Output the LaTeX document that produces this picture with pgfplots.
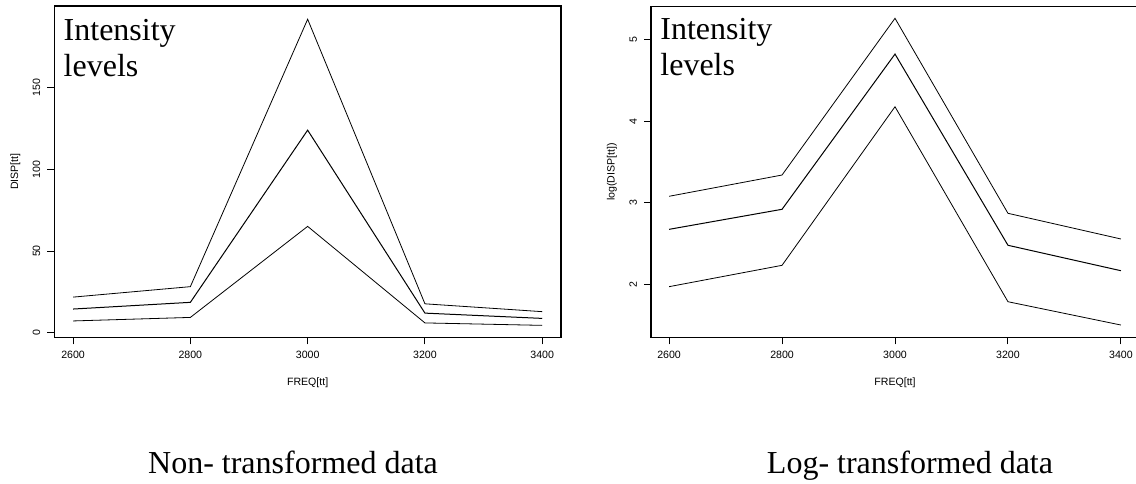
\documentclass[border=0pt]{standalone}
\usepackage{pgfplots}
\pgfplotsset{compat=1.18}
\usepackage{fontspec}
\setmainfont{Liberation Sans}
\newfontfamily\seriffont{Liberation Serif}
\begin{document}
\begin{tikzpicture}
\pgfplotsset{
  rstyle/.style={
    scale only axis,
    axis line style={black, line width=0.55pt},
    xmin=2568, xmax=3432,
    xtick={2600,2800,3000,3200,3400},
    xtick pos=bottom, ytick pos=left,
    tick align=outside,
    major tick length=3.5pt,
    every tick/.style={black, line width=0.5pt},
    tick label style={font=\fontsize{5.3}{6}\selectfont},
    /pgf/number format/assume math mode=true,
    /pgf/number format/set thousands separator={},
    scaled ticks=false,
    yticklabel style={rotate=90, anchor=south},
    every axis x label/.style={at={(axis description cs:0.5,0)}, anchor=center, yshift=-22.5pt, font=\fontsize{5.3}{6}\selectfont},
    every axis y label/.style={at={(axis description cs:0,0.5)}, anchor=center, xshift=-19.5pt, rotate=90, font=\fontsize{5.3}{6}\selectfont},
    cycle list={{black, line width=0.5pt, no markers}},
  }
}
\begin{axis}[rstyle,
  at={(27.15pt,72.85pt)}, anchor=south west,
  width=253.35pt, height=165.65pt,
  ymin=-2.8, ymax=200,
  ytick={0,50,100,150},
  xlabel={FREQ[tt]}, ylabel={DISP[tt]}]
\addplot coordinates {(2600,21.8)(2800,28.2)(3000,191.9)(3200,17.7)(3400,12.9)};
\addplot coordinates {(2600,14.5)(2800,18.6)(3000,124.0)(3200,12.0)(3400,8.77)};
\addplot coordinates {(2600,7.21)(2800,9.37)(3000,65.1)(3200,6.0)(3400,4.51)};
\node[anchor=base west, inner sep=0, font=\seriffont\fontsize{16}{18}\selectfont] at (rel axis cs:0,1) [xshift=4.5pt, yshift=-17pt] {Intensity};
\node[anchor=base west, inner sep=0, font=\seriffont\fontsize{16}{18}\selectfont] at (rel axis cs:0,1) [xshift=4.5pt, yshift=-35pt] {levels};
\end{axis}
\begin{axis}[rstyle,
  at={(325.5pt,72.85pt)}, anchor=south west,
  width=244pt, height=165.3pt,
  ymin=1.357, ymax=5.399,
  ytick={2,3,4,5},
  xlabel={FREQ[tt]}, ylabel={log(DISP[tt])}]
\addplot coordinates {(2600,3.081)(2800,3.341)(3000,5.257)(3200,2.873)(3400,2.559)};
\addplot coordinates {(2600,2.677)(2800,2.922)(3000,4.820)(3200,2.482)(3400,2.171)};
\addplot coordinates {(2600,1.976)(2800,2.237)(3000,4.176)(3200,1.792)(3400,1.507)};
\node[anchor=base west, inner sep=0, font=\seriffont\fontsize{16}{18}\selectfont] at (rel axis cs:0,1) [xshift=4.5pt, yshift=-16.5pt] {Intensity};
\node[anchor=base west, inner sep=0, font=\seriffont\fontsize{16}{18}\selectfont] at (rel axis cs:0,1) [xshift=4.5pt, yshift=-34.5pt] {levels};
\end{axis}
\node[anchor=base, inner sep=0, font=\seriffont\fontsize{16}{18}\selectfont] at (146.5pt,5pt) {Non- transformed data};
\node[anchor=base, inner sep=0, font=\seriffont\fontsize{16}{18}\selectfont] at (455pt,5pt) {Log- transformed data};
\pgfresetboundingbox
\path[use as bounding box] (0,0) rectangle (568pt,241.5pt);
\end{tikzpicture}
\end{document}
